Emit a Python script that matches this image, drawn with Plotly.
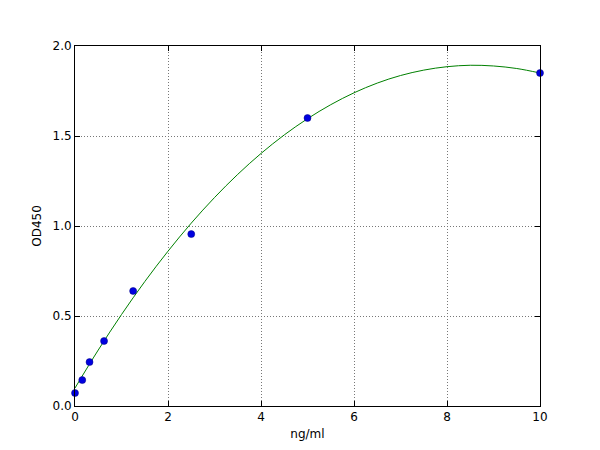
import plotly.graph_objects as go

# standards
conc = [0, 0.156, 0.3125, 0.625, 1.25, 2.5, 5, 10]
od = [0.072, 0.144, 0.244, 0.361, 0.639, 0.955, 1.60, 1.85]

# fitted curve, every 0.5 ng/ml
fit_x = [0, 0.5, 1, 1.5, 2, 2.5, 3, 3.5, 4, 4.5, 5, 5.5, 6, 6.5, 7, 7.5, 8, 8.5, 9, 9.5, 10]
fit_y = [0.100, 0.311, 0.508, 0.691, 0.860, 1.016, 1.158, 1.287, 1.403, 1.506, 1.596,
         1.674, 1.740, 1.794, 1.836, 1.866, 1.885, 1.893, 1.889, 1.875, 1.850]

x_ticks = [0, 2, 4, 6, 8, 10]
y_ticks = [0.0, 0.5, 1.0, 1.5, 2.0]

fig = go.Figure()
fig.add_trace(go.Scatter(
    x=fit_x, y=fit_y, mode="lines",
    line=dict(color="#008000", width=1, shape="spline"),
    hoverinfo="skip",
))
fig.add_trace(go.Scatter(
    x=conc, y=od, mode="markers",
    marker=dict(color="#0000e0", size=7, line=dict(color="#00007f", width=0.5)),
    cliponaxis=False,
))

axis_style = dict(
    showline=True, linecolor="black", linewidth=1, mirror="ticks",
    ticks="inside", ticklen=5, tickcolor="black",
    showgrid=True, gridcolor="#777777", griddash="1px,2px", gridwidth=1,
    zeroline=False,
    tickfont=dict(family="DejaVu Sans", size=12, color="black"),
)

fig.update_xaxes(
    range=[0, 10], tickvals=x_ticks, ticktext=[str(v) for v in x_ticks],
    title=dict(text="ng/ml", font=dict(family="DejaVu Sans", size=12, color="black"), standoff=6),
    **axis_style,
)
fig.update_yaxes(
    range=[0, 2.0], tickvals=y_ticks, ticktext=["%.1f" % v for v in y_ticks],
    title=dict(text="OD450", font=dict(family="DejaVu Sans", size=12, color="black"), standoff=8),
    **axis_style,
)

fig.update_layout(
    width=600, height=450,
    margin=dict(l=67, r=68, t=38, b=52),
    paper_bgcolor="white", plot_bgcolor="white",
    showlegend=False,
)
fig.write_html("out.html")
